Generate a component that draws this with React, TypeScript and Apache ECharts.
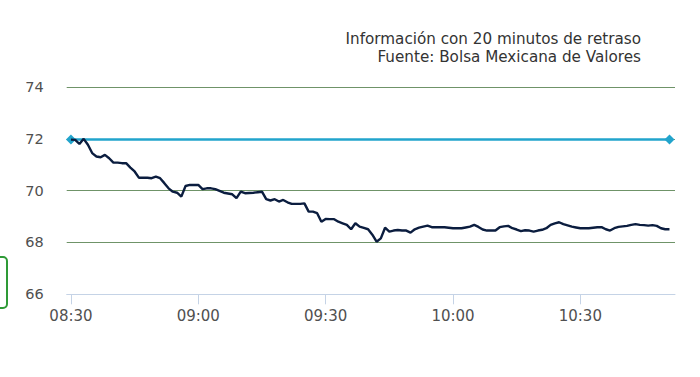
import React, { useEffect, useRef } from "react";
import * as echarts from "echarts";

const START_HOUR = 8;
const START_MIN = 30;
const tickMinutes = [0, 30, 60, 90, 120];
const yTicks = [66, 68, 70, 72, 74];
const referencePrice = 71.97;
const referenceMinutes = [0, 141];
const subtitleLines = [
  "Información con 20 minutos de retraso",
  "Fuente: Bolsa Mexicana de Valores",
];
// one price per minute from 08:30
const prices = [
  71.97, 71.96, 71.8, 72.0, 71.77, 71.45, 71.32, 71.29, 71.38, 71.25,
  71.08, 71.08, 71.06, 71.06, 70.89, 70.74, 70.5, 70.5, 70.5, 70.48,
  70.54, 70.48, 70.29, 70.09, 69.96, 69.92, 69.77, 70.18, 70.22, 70.22,
  70.22, 70.06, 70.09, 70.09, 70.06, 69.99, 69.92, 69.89, 69.86, 69.71,
  69.96, 69.9, 69.91, 69.92, 69.94, 69.96, 69.67, 69.62, 69.67, 69.58,
  69.64, 69.55, 69.49, 69.49, 69.49, 69.51, 69.19, 69.19, 69.13, 68.8,
  68.91, 68.9, 68.9, 68.8, 68.74, 68.68, 68.51, 68.74, 68.61, 68.56,
  68.51, 68.3, 68.03, 68.16, 68.57, 68.42, 68.46, 68.48, 68.46, 68.46,
  68.38, 68.51, 68.57, 68.61, 68.65, 68.59, 68.59, 68.59, 68.59, 68.57,
  68.55, 68.55, 68.55, 68.58, 68.61, 68.68, 68.6, 68.5, 68.46, 68.46,
  68.46, 68.59, 68.62, 68.64, 68.55, 68.5, 68.44, 68.47, 68.46, 68.42,
  68.46, 68.49, 68.55, 68.68, 68.74, 68.78, 68.71, 68.66, 68.61, 68.58,
  68.55, 68.55, 68.55, 68.57, 68.59, 68.59, 68.51, 68.46, 68.55, 68.6,
  68.62, 68.64, 68.68, 68.71, 68.68, 68.67, 68.65, 68.67, 68.64, 68.55,
  68.51, 68.51,
];

const fmt = (m: number) => {
  const t = START_HOUR * 60 + START_MIN + Math.round(m);
  const h = Math.floor(t / 60);
  const mm = t % 60;
  return `${h < 10 ? "0" : ""}${h}:${mm < 10 ? "0" : ""}${mm}`;
};

export default function App() {
  const ref = useRef<HTMLDivElement>(null);
  useEffect(() => {
    if (!ref.current) return;
    const chart = echarts.init(ref.current, null, { renderer: "svg" });
    const green = "#6f9368";
    const font = "DejaVu Sans";
    chart.setOption({
      animation: false,
      textStyle: { fontFamily: font },
      grid: { left: 66.7, right: 25, top: 87, bottom: 82.7, containLabel: false },
      xAxis: {
        type: "value",
        min: -1.0,
        max: 142.3,
        splitLine: { show: false },
        axisLine: { lineStyle: { color: "#c5d3e6", width: 1 } },
        axisTick: { customValues: tickMinutes, length: 10, lineStyle: { color: "#c5d3e6" } },
        axisLabel: {
          customValues: tickMinutes,
          formatter: (v: number) => fmt(v),
          color: "#505050",
          fontSize: 15,
          fontFamily: font,
          margin: 14,
        },
      },
      yAxis: {
        type: "value",
        min: yTicks[0],
        max: yTicks[yTicks.length - 1],
        interval: 2,
        axisLine: { show: false },
        axisTick: { show: false },
        axisLabel: { color: "#505050", fontSize: 14.5, fontFamily: font, margin: 23 },
        splitLine: {
          lineStyle: { color: ["rgba(0,0,0,0)", green, green, green, green], width: 1.2 },
        },
      },
      graphic: [
        {
          type: "text",
          right: 59,
          top: 30,
          style: {
            text: subtitleLines.join("\n"),
            fill: "#333",
            font: `15.2px "${font}"`,
            textAlign: "right",
            lineHeight: 18,
          },
        },
        {
          type: "rect",
          shape: { x: -20, y: 257, width: 27, height: 51, r: 4 },
          style: { fill: "#fff", stroke: "#2e9a36", lineWidth: 2 },
        },
      ],
      series: [
        {
          type: "line",
          data: referenceMinutes.map((m) => [m, referencePrice]),
          symbol: "diamond",
          symbolSize: 10,
          showSymbol: true,
          lineStyle: { color: "#22a4cc", width: 2.5 },
          itemStyle: { color: "#22a4cc" },
          z: 2,
        },
        {
          type: "line",
          data: prices.map((v, i) => [i, v]),
          showSymbol: false,
          lineStyle: { color: "#0b1d3f", width: 2.4 },
          z: 3,
        },
      ],
    });
    return () => chart.dispose();
  }, []);
  return (
    <div
      ref={ref}
      style={{ position: "absolute", left: 0, top: 0, width: 700, height: 377, background: "#fff" }}
    />
  );
}
